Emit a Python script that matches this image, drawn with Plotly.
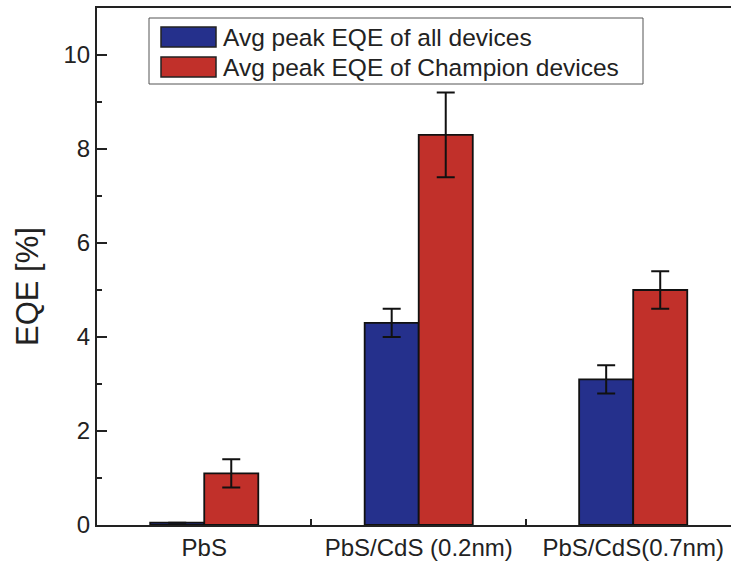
import plotly.graph_objects as go

categories = ["PbS", "PbS/CdS (0.2nm)", "PbS/CdS(0.7nm)"]
series_names = ["Avg peak EQE of all devices", "Avg peak EQE of Champion devices"]
all_devices = [0.05, 4.3, 3.1]
all_devices_err = [0.0, 0.3, 0.3]
champion = [1.1, 8.3, 5.0]
champion_err = [0.3, 0.9, 0.4]
colors = ["#25308c", "#c1302a"]
y_ticks = [0, 2, 4, 6, 8, 10]
y_title = "EQE [%]"

FONT = "Arial, Liberation Sans, sans-serif"

fig = go.Figure()
for name, vals, errs, col in [
    (series_names[0], all_devices, all_devices_err, colors[0]),
    (series_names[1], champion, champion_err, colors[1]),
]:
    fig.add_trace(go.Bar(
        x=categories, y=vals, name=name,
        marker=dict(color=col, line=dict(color="#111", width=1.8)),
        error_y=dict(type="data", array=errs, visible=True,
                     color="#111", thickness=2, width=9),
        showlegend=False,
    ))

# plot area in pixels: x 97..731, y 8..525
def px_x(p):
    return (p - 97) / 634.0

def px_y(p):
    return (525 - p) / 517.0

shapes = [
    dict(type="rect", xref="paper", yref="paper",
         x0=px_x(149), x1=px_x(643), y0=px_y(84), y1=px_y(18),
         line=dict(color="#555", width=1), fillcolor="white", layer="above"),
]
annotations = []
rows = [(27, 47), (57, 77)]
for (t, b), col, name in zip(rows, colors, series_names):
    shapes.append(dict(type="rect", xref="paper", yref="paper",
                       x0=px_x(161), x1=px_x(216), y0=px_y(b), y1=px_y(t),
                       line=dict(color="#222", width=1.5), fillcolor=col,
                       layer="above"))
    annotations.append(dict(xref="paper", yref="paper", x=px_x(221),
                            y=px_y((t + b) / 2), text=name, showarrow=False,
                            xanchor="left", yanchor="middle",
                            font=dict(family=FONT, size=24.5, color="#222")))

annotations.append(dict(xref="paper", yref="paper", x=px_x(28), y=px_y(287),
                        text=y_title, textangle=-90, showarrow=False,
                        xanchor="center", yanchor="middle",
                        font=dict(family=FONT, size=31, color="#222")))

fig.update_layout(
    width=731, height=563,
    margin=dict(l=97, r=0, t=8, b=38),
    paper_bgcolor="white", plot_bgcolor="white",
    barmode="group", bargap=0.496, bargroupgap=0,
    font=dict(family=FONT, color="#222"),
    shapes=shapes, annotations=annotations,
    xaxis=dict(
        range=[-0.5, 2.456], showline=True, linecolor="#222", linewidth=2,
        mirror=True, ticks="inside", tickson="boundaries", ticklen=6,
        tickwidth=1.5, tickcolor="#222", showgrid=False,
        tickfont=dict(family=FONT, size=24, color="#222"),
    ),
    yaxis=dict(
        range=[0, 11], tickvals=y_ticks, showline=True, linecolor="#222",
        linewidth=2, ticks="inside", ticklen=10, tickwidth=2,
        tickcolor="#222", showgrid=False, zeroline=False,
        minor=dict(dtick=1, ticks="inside", ticklen=5, tickwidth=2,
                   tickcolor="#222", showgrid=False),
        tickfont=dict(family=FONT, size=24, color="#222"),
    ),
)

fig.write_html("out.html")
